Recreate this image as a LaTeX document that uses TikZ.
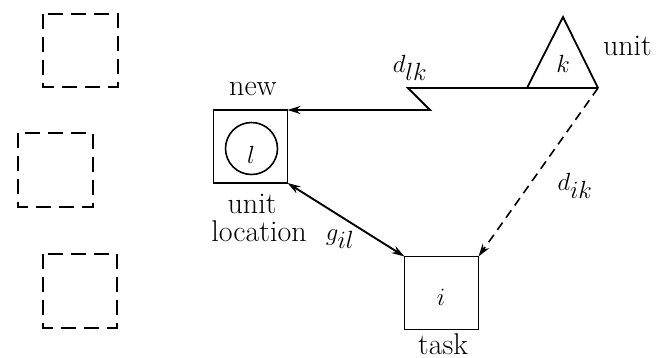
\documentclass[tikz,border=0pt]{standalone}
\usetikzlibrary{arrows.meta}
\begin{document}
\begin{tikzpicture}[x=1pt,y=-1pt,
  every node/.style={font=\fontsize{30}{36}\selectfont, inner sep=0pt, outer sep=0pt},
  mathlbl/.style={anchor=base, font=\fontsize{35}{40}\selectfont},
  box/.style={draw, line width=1.8pt, minimum width=74pt, minimum height=73pt},
  ghost/.style={draw, line width=2pt, dash pattern=on 15pt off 8pt},
  conn/.style={line width=1.9pt},
  tip/.style={-{Stealth[length=13pt,width=8pt]}},
  lbl/.style={anchor=base}
]
\useasboundingbox (0,0) rectangle (660,357);
% dashed candidate squares
\draw[ghost] (43,14) rectangle (118,87);
\draw[ghost] (18,133) rectangle (93,207);
\draw[ghost] (43,254) rectangle (117,328);
% new location l
\node[box] (l) at (250.5,146.5) {};
\node[draw, circle, line width=1.6pt, minimum size=52pt] (lc) at (251.5,148.5) {};
\node[mathlbl] (ltxt) at (251,163) {$l$};
% task i
\node[box] (i) at (441.5,293) {};
\node[mathlbl] (itxt) at (441,305) {$i$};
% unit k triangle
\coordinate (kA) at (563,17);
\coordinate (kL) at (527,88);
\coordinate (kR) at (598,88);
\draw[line width=1.8pt, line join=miter] (kL) -- (kA) -- (kR);
\node[mathlbl] (ktxt) at (563,72) {$k$};
% zigzag line from unit to new location
\coordinate (z1) at (408,88);
\coordinate (z2) at (430,110);
\draw[conn, tip] (kR) -- (z1) -- (z2) -- (l.north east);
% dashed arrow k -> i
\draw[conn, line width=1.6pt, dash pattern=on 9pt off 6pt, tip] (kR) -- (i.north east);
% double arrow l <-> i
\draw[conn, {Stealth[length=13pt,width=8pt]}-{Stealth[length=13pt,width=8pt]}] (l.south east) -- (i.north west);
% labels
\node[lbl] (new) at (253,95) {new};
\node[lbl, anchor=base west] (unitk) at (603,55) {unit};
\node[mathlbl] (dlk) at (410,72) {$d_{lk}$};
\node[mathlbl] (dik) at (575,190) {$d_{ik}$};
\node[lbl] (unitl) at (252,213) {unit};
\node[lbl] (loc) at (259,241) {location};
\node[mathlbl] (gil) at (340,240) {$g_{il}$};
\node[lbl] (task) at (443,354) {task};
\end{tikzpicture}
\end{document}
